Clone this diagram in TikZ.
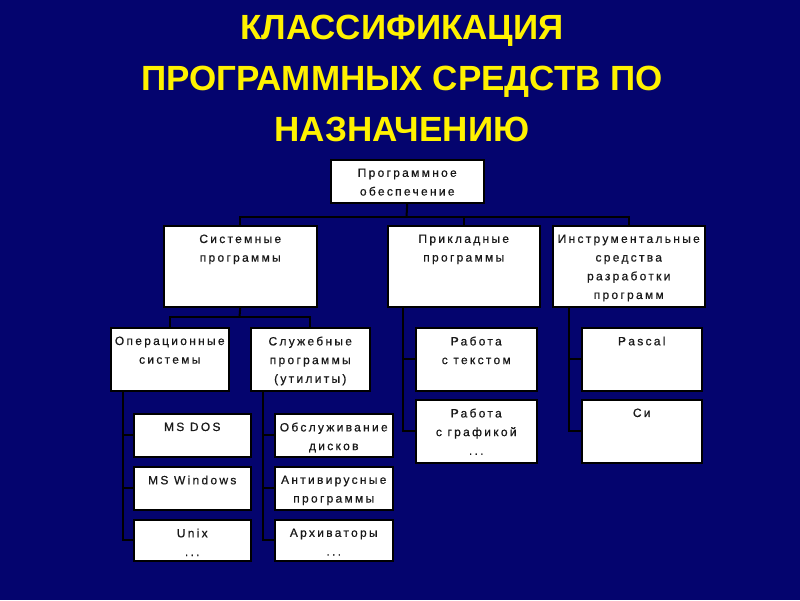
\documentclass[tikz,border=0pt]{standalone}
\usepackage{fontspec}
\setmainfont{Liberation Sans}
\newfontfamily\blkfont[LetterSpace=19,FakeBold=0.6]{Liberation Sans}
\tikzset{
  blk/.style 2 args={draw=black, line width=1.5pt, fill=white, inner sep=0pt,
    anchor=north west, minimum width=#1, minimum height=#2},
  blktext/.style={anchor=north, inner sep=0pt, yshift=-9.4pt, align=center,
    text=black!90, font=\blkfont\fontsize{12}{18.7}\selectfont},
  conn/.style={black, line width=2pt},
  title/.style={anchor=north, inner sep=0pt, align=center,
    font=\fontsize{35}{51}\selectfont\bfseries}
}
\begin{document}
\begin{tikzpicture}[x=1pt,y=-1pt]
  \definecolor{slidecolor}{RGB}{4,4,110}
  \fill [slidecolor] (0,0) rectangle (800,600);
  \node [title, text=yellow] (title) at (402,15) {КЛАССИФИКАЦИЯ\\ПРОГРАММНЫХ СРЕДСТВ ПО\\НАЗНАЧЕНИЮ};
  % top levels
  \node [blk={153pt}{43pt}, label={[blktext]north:{Программное\\обеспечение}}] (root) at (330,159) {};
  \node [blk={153pt}{81pt}, label={[blktext]north:{Системные\\программы}}] (sys) at (163,225) {};
  \node [blk={152pt}{81pt}, label={[blktext]north:{Прикладные\\программы}}] (app) at (387,225) {};
  \node [blk={152pt}{81pt}, label={[blktext]north:{Инструментальные\\средства\\разработки\\программ}}] (tool) at (552,225) {};
  \node [blk={118pt}{63pt}, label={[blktext]north:{Операционные\\системы}}] (os) at (110,327) {};
  \node [blk={119pt}{63pt}, label={[blktext]north:{Служебные\\программы\\(утилиты)}}] (util) at (250,327) {};
  \node [blk={121pt}{63pt}, label={[blktext]north:{Работа\\с текстом}}] (text) at (415,327) {};
  \node [blk={121pt}{63pt}, label={[blktext]north:{Работа\\с графикой\\...}}] (graph) at (415,399) {};
  \node [blk={120pt}{63pt}, label={[blktext]north:{Pascal}}] (pascal) at (581,327) {};
  \node [blk={120pt}{63pt}, label={[blktext]north:{Си}}] (ci) at (581,399) {};
  % bottom rows
  \node [blk={117pt}{43pt}, label={[blktext]north:{MS DOS}}] (dos) at (133,413) {};
  \node [blk={117pt}{43pt}, label={[blktext]north:{MS Windows}}] (win) at (133,466) {};
  \node [blk={117pt}{41pt}, label={[blktext]north:{Unix\\...}}] (unix) at (133,519) {};
  \node [blk={118pt}{43pt}, label={[blktext]north:{Обслуживание\\дисков}}] (disk) at (274,413) {};
  \node [blk={118pt}{43pt}, label={[blktext]north:{Антивирусные\\программы}}] (av) at (274,466) {};
  \node [blk={118pt}{41pt}, label={[blktext]north:{Архиваторы\\...}}] (arch) at (274,519) {};
  % connectors
  \coordinate (b0) at (406.5,217);
  \draw [conn] (root.south) -- (b0);
  \draw [conn] (sys.north) |- (b0) -| (tool.north);
  \draw [conn] (app.north) -- (app.north |- b0);
  \coordinate (b1) at (239.5,317);
  \draw [conn] (sys.south) -- (b1);
  \draw [conn] (os.north) |- (b1) -| (util.north);
  \coordinate (os0) at ([xshift=13pt]os.south west);
  \draw [conn] (os0) |- (unix.west);
  \draw [conn] (os0 |- dos.west) -- (dos.west);
  \draw [conn] (os0 |- win.west) -- (win.west);
  \coordinate (util0) at ([xshift=13pt]util.south west);
  \draw [conn] (util0) |- (arch.west);
  \draw [conn] (util0 |- disk.west) -- (disk.west);
  \draw [conn] (util0 |- av.west) -- (av.west);
  \coordinate (app0) at ([xshift=16pt]app.south west);
  \draw [conn] (app0) |- (graph.west);
  \draw [conn] (app0 |- text.west) -- (text.west);
  \coordinate (tool0) at ([xshift=17pt]tool.south west);
  \draw [conn] (tool0) |- (ci.west);
  \draw [conn] (tool0 |- pascal.west) -- (pascal.west);
\end{tikzpicture}
\end{document}
